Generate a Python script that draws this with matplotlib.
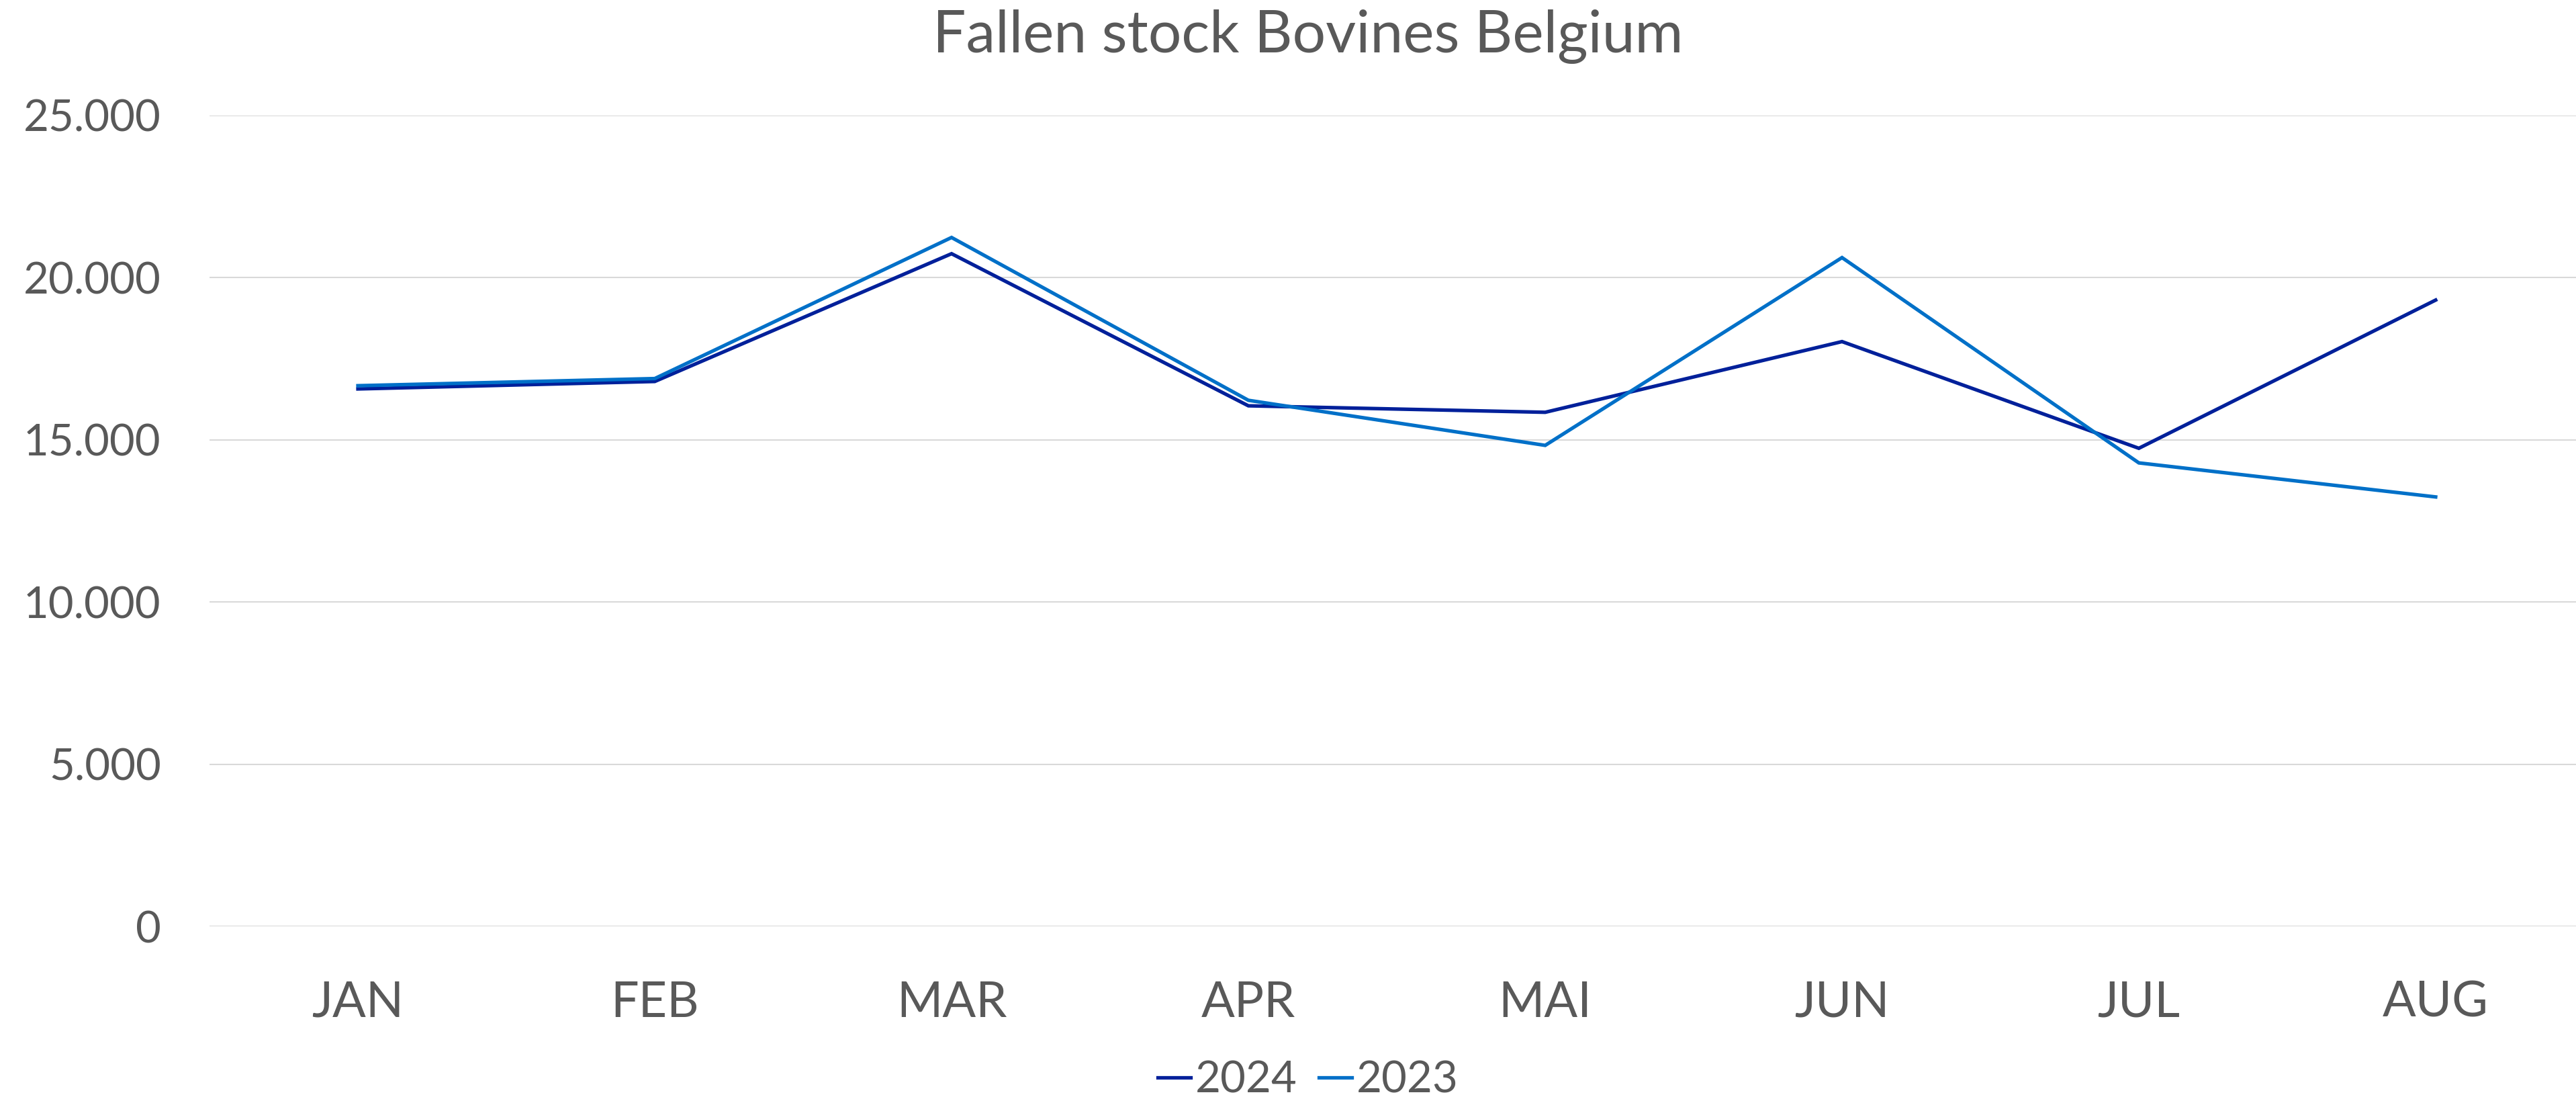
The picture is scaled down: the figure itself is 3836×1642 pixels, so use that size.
import matplotlib
matplotlib.use('Agg')
from matplotlib import pyplot as plt
from matplotlib.ticker import FuncFormatter

months = ['JAN', 'FEB', 'MAR', 'APR', 'MAI', 'JUN', 'JUL', 'AUG']
y2024 = [16570, 16800, 20740, 16050, 15850, 18030, 14740, 19310]
y2023 = [16670, 16890, 21240, 16220, 14830, 20620, 14290, 13240]
yticks = [0, 5000, 10000, 15000, 20000, 25000]

c2024 = '#00209A'
c2023 = '#0070C8'
grey = '#595959'

plt.rcParams['font.family'] = ['Lato', 'DejaVu Sans']

fig = plt.figure(figsize=(38.36, 16.42), dpi=100)
ax = fig.add_axes([312 / 3836, 1 - 1379 / 1642, 3536 / 3836, 1207 / 1642])

x = list(range(len(months)))
ax.plot(x, y2024, color=c2024, linewidth=3.8, label='2024', solid_joinstyle='miter')
ax.plot(x, y2023, color=c2023, linewidth=3.8, label='2023', solid_joinstyle='miter')

ax.set_xlim(-0.5, len(months) - 0.5)
ax.set_ylim(0, 25000)
ax.set_xticks(x)
ax.set_xticklabels(months)
ax.set_yticks(yticks)
ax.yaxis.set_major_formatter(FuncFormatter(lambda v, p: f'{int(v):,}'.replace(',', '.')))
ax.grid(axis='y', color='#D9D9D9', linewidth=1.5)
ax.set_axisbelow(True)
for s in ax.spines.values():
	s.set_visible(False)
ax.tick_params(axis='both', length=0, colors=grey)
ax.tick_params(axis='y', labelsize=47, pad=52)
ax.tick_params(axis='x', labelsize=53, pad=58)

fig.text(1948 / 3836, 1 - 54 / 1642, 'Fallen stock Bovines Belgium', ha='center', va='center',
		 fontsize=63, color=grey)

leg = fig.legend(loc='center', bbox_to_anchor=(1948 / 3836, 1 - 1608 / 1642), ncol=2, frameon=False,
				 fontsize=47, handlelength=0.75, handletextpad=0.1, columnspacing=0.5, labelcolor=grey)
for h in leg.get_lines():
	h.set_linewidth(3.8)

fig.savefig('out.png', dpi=100)
